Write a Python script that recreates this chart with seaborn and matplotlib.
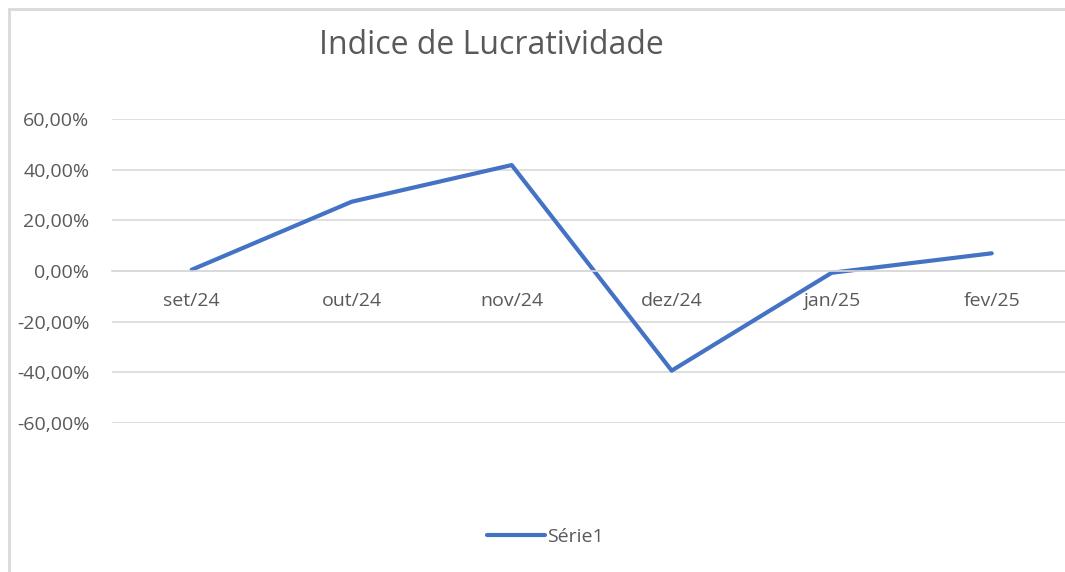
import matplotlib
matplotlib.use("Agg")
import matplotlib.pyplot as plt
import matplotlib.patches as mpatches
import seaborn as sns
import pandas as pd

meses = ["set/24", "out/24", "nov/24", "dez/24", "jan/25", "fev/25"]
lucratividade = [0.5, 27.4, 41.9, -39.4, -0.7, 7.0]
y_ticks = [60, 40, 20, 0, -20, -40, -60]
y_labels = ["60,00%", "40,00%", "20,00%", "0,00%", "-20,00%", "-40,00%", "-60,00%"]

df = pd.DataFrame({"mes": meses, "valor": lucratividade})

sns.set_style("white")
plt.rcParams["font.family"] = ["Open Sans", "DejaVu Sans"]

cinza = "#595959"
grade = "#D9D9D9"

fig = plt.figure(figsize=(10.65, 5.72), dpi=100)
ax = fig.add_axes([111.7 / 1065, 1 - 422.7 / 572, 960 / 1065, (422.7 - 119.3) / 572])

sns.lineplot(data=df, x="mes", y="valor", ax=ax, color="#4472C4", linewidth=3,
             label="Série1", sort=False)

ax.set_xlim(-0.5, 5.5)
ax.set_ylim(-60, 60)
ax.set_yticks(y_ticks)
ax.set_yticklabels(y_labels)
ax.yaxis.grid(True, color=grade, linewidth=1.2)
ax.set_axisbelow(True)
for s in ["top", "right", "left"]:
    ax.spines[s].set_visible(False)
ax.spines["bottom"].set_position(("data", 0))
ax.spines["bottom"].set_color(grade)
ax.spines["bottom"].set_linewidth(1.2)
ax.tick_params(axis="y", length=0, pad=16, labelsize=14, labelcolor=cinza)
ax.tick_params(axis="x", length=0, pad=15, labelsize=14, labelcolor=cinza)
ax.set_xlabel("")
ax.set_ylabel("")

ax.get_legend().remove()
h, l = ax.get_legend_handles_labels()
fig.legend(h, l, loc="center", bbox_to_anchor=(545 / 1065, 1 - 537 / 572), frameon=False,
           fontsize=14, labelcolor=cinza, handlelength=3.0, handletextpad=0.1)

fig.text(491 / 1065, 1 - 45 / 572, "Indice de Lucratividade", ha="center", va="center",
         fontsize=23, color=cinza)

borda = mpatches.Rectangle((9 / 1065, -0.1), 1.2, 1 - 9 / 572 + 0.1, transform=fig.transFigure,
                           fill=False, edgecolor=grade, linewidth=2)
fig.patches.append(borda)

fig.savefig("out.png", dpi=100, facecolor="white")
